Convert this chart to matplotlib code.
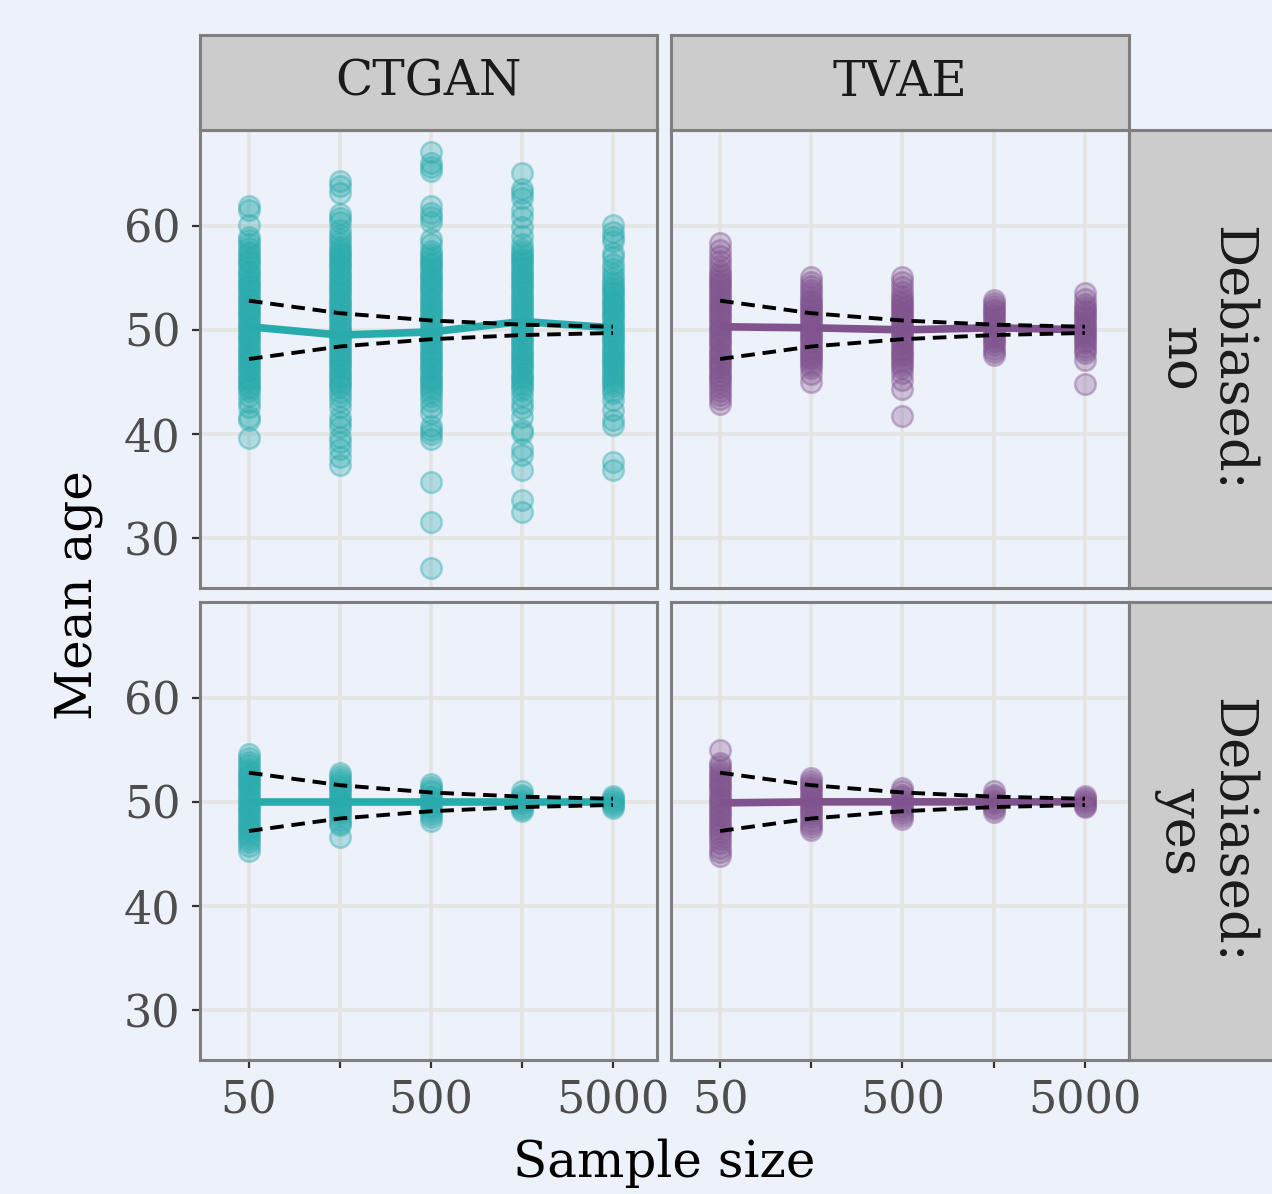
import matplotlib
matplotlib.use("Agg")
import matplotlib.pyplot as plt
from matplotlib.colors import to_rgba

# sample sizes (log axis)
sizes = [50, 158, 500, 1581, 5000]
size_labels = ["50", "", "500", "", "5000"]

# dashed reference band around the true mean
band_upper = [52.8, 51.6, 50.9, 50.5, 50.3]
band_lower = [47.2, 48.4, 49.1, 49.5, 49.7]

# CTGAN, not debiased
c_no_50 = [61.9, 61.5, 60.1, 58.9, 58.6, 58.2, 57.9, 57.5, 57.3, 56.9, 56.6, 56.4, 56.0, 55.7, 55.5,
           55.2, 54.8, 54.6, 54.3, 54.1, 53.8, 53.5, 53.3, 53.0, 52.8, 52.5, 52.2, 52.0, 51.7, 51.5,
           51.2, 50.9, 50.7, 50.4, 50.2, 49.9, 49.6, 49.4, 49.1, 48.9, 48.6, 48.3, 48.1, 47.8, 47.5,
           47.3, 47.0, 46.8, 46.5, 46.2, 46.0, 45.7, 45.4, 45.2, 44.9, 44.6, 44.4, 44.1, 43.6, 43.1,
           42.6, 41.6, 41.3, 39.6]
c_no_158 = [64.3, 63.8, 63.1, 61.1, 60.7, 60.4, 59.6, 59.1, 58.7, 58.3, 58.0, 57.7, 57.4, 57.2, 56.9,
            56.6, 56.3, 56.1, 55.8, 55.5, 55.3, 55.0, 54.7, 54.4, 54.2, 53.9, 53.6, 53.4, 53.1, 52.8,
            52.6, 52.3, 52.0, 51.8, 51.5, 51.2, 51.0, 50.7, 50.4, 50.1, 49.9, 49.6, 49.3, 49.1, 48.8,
            48.5, 48.3, 48.0, 47.7, 47.5, 47.2, 46.9, 46.7, 46.4, 46.1, 45.8, 45.6, 45.3, 45.0, 44.7,
            44.5, 44.0, 43.6, 43.2, 42.6, 41.6, 41.1, 40.7, 39.7, 39.2, 38.6, 37.8, 37.0]
c_no_500 = [67.1, 66.0, 65.6, 65.3, 61.9, 61.2, 60.8, 60.4, 58.7, 58.2, 57.6, 57.3, 57.0, 56.7, 56.4,
            56.2, 55.9, 55.6, 55.3, 55.1, 54.8, 54.5, 54.2, 54.0, 53.7, 53.4, 53.1, 52.9, 52.6, 52.3,
            52.0, 51.8, 51.5, 51.2, 50.9, 50.7, 50.4, 50.1, 49.8, 49.6, 49.3, 49.0, 48.7, 48.5, 48.2,
            47.9, 47.6, 47.4, 47.1, 46.8, 46.5, 46.3, 46.0, 45.7, 45.4, 45.2, 44.9, 44.6, 44.3, 44.0,
            43.6, 43.2, 42.6, 42.0, 40.8, 40.4, 40.0, 39.5, 35.4, 31.5, 27.1]
c_no_1581 = [65.1, 63.5, 63.1, 62.7, 61.5, 60.8, 59.9, 59.0, 58.2, 57.8, 57.5, 57.2, 56.9, 56.7, 56.4,
             56.1, 55.8, 55.5, 55.3, 55.0, 54.7, 54.4, 54.2, 53.9, 53.6, 53.3, 53.1, 52.8, 52.5, 52.2,
             52.0, 51.7, 51.4, 51.1, 50.9, 50.6, 50.3, 50.0, 49.8, 49.5, 49.2, 48.9, 48.7, 48.4, 48.1,
             47.8, 47.6, 47.3, 47.0, 46.7, 46.5, 46.2, 45.9, 45.6, 45.4, 45.1, 44.8, 44.5, 44.2, 43.6,
             43.0, 42.5, 41.6, 40.4, 40.1, 38.6, 38.0, 36.5, 33.7, 32.5]
c_no_5000 = [60.1, 59.4, 58.9, 58.5, 57.4, 57.0, 56.3, 55.8, 55.4, 55.0, 54.6, 54.3, 54.0, 53.7, 53.5,
             53.2, 52.9, 52.6, 52.4, 52.1, 51.8, 51.5, 51.3, 51.0, 50.7, 50.4, 50.2, 49.9, 49.6, 49.3,
             49.1, 48.8, 48.5, 48.2, 48.0, 47.7, 47.4, 47.1, 46.9, 46.6, 46.3, 46.0, 45.8, 45.5, 45.2,
             44.9, 44.6, 44.2, 43.9, 43.3, 42.3, 41.3, 40.9, 37.3, 36.5]

# TVAE, not debiased
t_no_50 = [58.3, 57.7, 57.1, 56.6, 56.1, 55.7, 55.4, 55.1, 54.8, 54.5, 54.3, 54.0, 53.7, 53.4, 53.2,
           52.9, 52.6, 52.3, 52.1, 51.8, 51.5, 51.2, 51.0, 50.7, 50.4, 50.1, 49.9, 49.6, 49.3, 49.0,
           48.8, 48.5, 48.2, 47.9, 47.7, 47.4, 47.1, 46.8, 46.6, 46.3, 46.0, 45.7, 45.5, 45.2, 44.9,
           44.5, 44.1, 43.7, 43.4, 42.9]
t_no_158 = [55.1, 54.6, 54.2, 53.8, 53.5, 53.2, 52.9, 52.7, 52.4, 52.2, 51.9, 51.7, 51.4, 51.2, 50.9,
            50.7, 50.4, 50.2, 49.9, 49.7, 49.4, 49.2, 48.9, 48.7, 48.4, 48.2, 47.9, 47.7, 47.4, 47.2,
            46.9, 46.6, 46.3, 45.8, 45.0]
t_no_500 = [55.1, 54.6, 54.1, 53.6, 53.3, 53.0, 52.7, 52.5, 52.2, 52.0, 51.7, 51.5, 51.2, 51.0, 50.7,
            50.5, 50.2, 50.0, 49.7, 49.5, 49.2, 49.0, 48.7, 48.5, 48.2, 48.0, 47.7, 47.5, 47.2, 46.9,
            46.6, 46.3, 45.9, 45.2, 44.3, 41.7]
t_no_1581 = [52.9, 52.6, 52.3, 52.0, 51.8, 51.5, 51.3, 51.0, 50.8, 50.5, 50.3, 50.0, 49.8, 49.5, 49.3,
             49.0, 48.8, 48.5, 48.2, 47.9, 47.6]
t_no_5000 = [53.5, 53.0, 52.5, 52.2, 51.9, 51.7, 51.4, 51.2, 50.9, 50.7, 50.4, 50.2, 49.9, 49.7, 49.4,
             49.2, 48.9, 48.7, 48.4, 48.1, 47.8, 47.1, 44.8]

# CTGAN, debiased
c_yes_50 = [54.6, 54.2, 53.8, 53.5, 53.2, 52.9, 52.6, 52.4, 52.1, 51.8, 51.6, 51.3, 51.0, 50.8, 50.5,
            50.2, 50.0, 49.7, 49.4, 49.2, 48.9, 48.6, 48.4, 48.1, 47.8, 47.5, 47.3, 47.0, 46.7, 46.4,
            46.1, 45.8, 45.3]
c_yes_158 = [52.8, 52.5, 52.2, 51.9, 51.6, 51.4, 51.1, 50.9, 50.6, 50.4, 50.1, 49.9, 49.6, 49.4, 49.1,
             48.9, 48.6, 48.3, 48.0, 47.8, 46.6]
c_yes_500 = [51.7, 51.4, 51.1, 50.9, 50.6, 50.4, 50.1, 49.9, 49.6, 49.4, 49.1, 48.8, 48.5, 48.2]
c_yes_1581 = [51.0, 50.7, 50.5, 50.2, 50.0, 49.8, 49.5, 49.3, 49.1]
c_yes_5000 = [50.6, 50.4, 50.2, 50.0, 49.8, 49.6, 49.4]

# TVAE, debiased
t_yes_50 = [55.0, 53.7, 53.4, 53.1, 52.8, 52.5, 52.2, 51.9, 51.6, 51.4, 51.1, 50.8, 50.5, 50.2, 50.0,
            49.7, 49.4, 49.1, 48.8, 48.6, 48.3, 48.0, 47.7, 47.4, 47.1, 46.8, 46.4, 46.0, 45.6, 45.2,
            44.8]
t_yes_158 = [52.3, 52.0, 51.7, 51.4, 51.2, 50.9, 50.6, 50.4, 50.1, 49.9, 49.6, 49.3, 49.1, 48.8, 48.5,
             48.2, 47.9, 47.6, 47.3]
t_yes_500 = [51.3, 51.0, 50.7, 50.5, 50.2, 50.0, 49.7, 49.5, 49.2, 48.9, 48.6, 48.4]
t_yes_1581 = [51.0, 50.7, 50.5, 50.2, 50.0, 49.8, 49.5, 49.3, 49.0]
t_yes_5000 = [50.6, 50.4, 50.2, 50.0, 49.8, 49.6, 49.5]

# mean per sample size (solid line)
c_no_mean = [50.3, 49.5, 49.8, 50.8, 50.2]
t_no_mean = [50.3, 50.2, 50.0, 50.2, 50.0]
c_yes_mean = [50.0, 50.0, 50.0, 50.0, 50.0]
t_yes_mean = [49.9, 50.0, 50.0, 50.0, 50.0]

models = ["CTGAN", "TVAE"]
debiased = ["no", "yes"]
points = {
    ("CTGAN", "no"): [c_no_50, c_no_158, c_no_500, c_no_1581, c_no_5000],
    ("TVAE", "no"): [t_no_50, t_no_158, t_no_500, t_no_1581, t_no_5000],
    ("CTGAN", "yes"): [c_yes_50, c_yes_158, c_yes_500, c_yes_1581, c_yes_5000],
    ("TVAE", "yes"): [t_yes_50, t_yes_158, t_yes_500, t_yes_1581, t_yes_5000],
}
means = {
    ("CTGAN", "no"): c_no_mean,
    ("TVAE", "no"): t_no_mean,
    ("CTGAN", "yes"): c_yes_mean,
    ("TVAE", "yes"): t_yes_mean,
}
colors = {"CTGAN": "#29abad", "TVAE": "#80538f"}

bg = "#edf1fa"
grid_col = "#e4e4e4"
border_col = "#7f7f7f"
strip_col = "#cccccc"
font = "DejaVu Serif"

fig = plt.figure(figsize=(12.72, 11.94), dpi=100, facecolor=bg)

W, H = 1272, 1194
col_x = [(200, 657), (671, 1129)]
row_y = [(130, 588), (602, 1060)]


def fig_rect(x0, y0, x1, y1):
    # pixel box (top-left origin) -> figure fraction
    return [x0 / W, 1 - y1 / H, (x1 - x0) / W, (y1 - y0) / H]


for r, deb in enumerate(debiased):
    for c, model in enumerate(models):
        x0, x1 = col_x[c]
        y0, y1 = row_y[r]
        ax = fig.add_axes(fig_rect(x0, y0, x1, y1))
        ax.set_facecolor(bg)
        ax.set_xscale("log")
        ax.set_xlim(26.9, 8730)
        ax.set_ylim(25.2, 69.2)

        col = colors[model]
        for n, vals in zip(sizes, points[(model, deb)]):
            ax.scatter([n] * len(vals), vals, s=220,
                       facecolors=[to_rgba(col, 0.3)], edgecolors=[to_rgba(col, 0.4)],
                       linewidths=1.8, zorder=2)
        ax.plot(sizes, means[(model, deb)], color=col, lw=5.5, zorder=3, solid_capstyle="butt")
        for band in (band_upper, band_lower):
            ln, = ax.plot(sizes, band, color="black", lw=2.8, zorder=4)
            ln.set_dashes([3.5, 2])

        ax.set_xticks(sizes)
        ax.xaxis.set_minor_locator(matplotlib.ticker.NullLocator())
        ax.set_yticks([30, 40, 50, 60])
        ax.grid(True, color=grid_col, lw=2.6, zorder=0)
        ax.set_axisbelow(True)
        for sp in ax.spines.values():
            sp.set_color(border_col)
            sp.set_linewidth(2.2)

        ax.tick_params(axis="both", length=6, width=1.6, color="#333333",
                       labelsize=32, labelcolor="#4d4d4d", pad=8)
        if r == 1:
            ax.set_xticklabels(size_labels, fontfamily=font)
        else:
            ax.tick_params(axis="x", length=0, labelbottom=False)
        if c == 0:
            ax.set_yticklabels(["30", "40", "50", "60"], fontfamily=font)
        else:
            ax.tick_params(axis="y", length=0, labelleft=False)

        # top strip with model name
        if r == 0:
            sax = fig.add_axes(fig_rect(x0, 35, x1, y0))
            sax.set_xticks([])
            sax.set_yticks([])
            sax.set_facecolor(strip_col)
            for sp in sax.spines.values():
                sp.set_color(border_col)
                sp.set_linewidth(2.2)
            sax.text(0.5, 0.5, model, ha="center", va="center", fontsize=35,
                     family=font, color="#1a1a1a", transform=sax.transAxes)

    # right strip with debiased flag (runs off the right edge)
    rax = fig.add_axes(fig_rect(1129, row_y[r][0], 1300, row_y[r][1]))
    rax.set_xticks([])
    rax.set_yticks([])
    rax.set_facecolor(strip_col)
    for sp in rax.spines.values():
        sp.set_color(border_col)
        sp.set_linewidth(2.2)
    rax.text((1206 - 1129) / (1300 - 1129), 0.5, "Debiased:\n" + deb, ha="center", va="center",
             rotation=-90, fontsize=38, family=font, color="#1a1a1a",
             linespacing=1.0, transform=rax.transAxes)

fig.text(664 / W, 1 - 1163 / H, "Sample size", ha="center", va="center",
         fontsize=36, family=font, color="black")
fig.text(78 / W, 1 - 595 / H, "Mean age", ha="center", va="center", rotation=90,
         fontsize=36, family=font, color="black")

fig.savefig("out.png", dpi=100, facecolor=bg)
